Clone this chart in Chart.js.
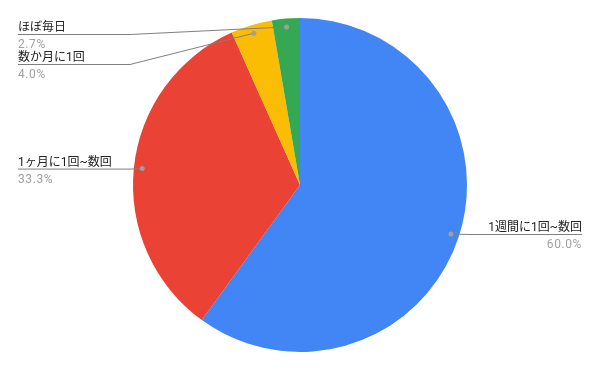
<!DOCTYPE html>
<html>
<head>
<meta charset="utf-8">
<script src="https://cdn.jsdelivr.net/npm/chart.js"></script>
<style>
  html, body { margin: 0; padding: 0; background: #fff; }
  #wrap { width: 600px; height: 371px; }
</style>
</head>
<body>
<div id="wrap"><canvas id="chart"></canvas></div>
<script>
const categories = ["1週間に1回~数回", "1ヶ月に1回~数回", "数か月に1回", "ほぼ毎日"];
const shares = [60.0, 33.3, 4.0, 2.7];
const percentLabels = ["60.0%", "33.3%", "4.0%", "2.7%"];
const sliceColors = ["#4285F4", "#EA4335", "#FBBC04", "#34A853"];

// outside labels with leader lines, like the spreadsheet export
const calloutPlugin = {
  id: 'callouts',
  afterDatasetsDraw(chart) {
    const ctx = chart.ctx;
    const meta = chart.getDatasetMeta(0);
    const W = chart.width;
    const margin = 18, runLen = 112, gap = 30, minY = 34;

    const items = meta.data.map((arc, i) => {
      const mid = (arc.startAngle + arc.endAngle) / 2;
      const r = arc.outerRadius * 0.95;
      const dx = arc.x + Math.cos(mid) * r;
      const dy = arc.y + Math.sin(mid) * r;
      return { i, dx, dy, left: dx < arc.x, ly: dy };
    });

    // push left-side labels apart from top
    const lefts = items.filter(d => d.left).sort((a, b) => a.dy - b.dy);
    let prev = minY - gap;
    lefts.forEach(d => { d.ly = Math.max(d.ly, prev + gap); prev = d.ly; });

    ctx.save();
    items.forEach(d => {
      const x0 = d.left ? margin : W - margin;
      const x1 = d.left ? margin + runLen : W - margin - runLen;

      ctx.strokeStyle = '#7f7f7f';
      ctx.lineWidth = 1;
      ctx.beginPath();
      ctx.moveTo(x0, d.ly + 0.5);
      ctx.lineTo(x1, d.ly + 0.5);
      ctx.lineTo(d.dx, d.dy);
      ctx.stroke();

      ctx.fillStyle = '#9e9e9e';
      ctx.beginPath();
      ctx.arc(d.dx, d.dy, 2.5, 0, Math.PI * 2);
      ctx.fill();

      ctx.textAlign = d.left ? 'left' : 'right';
      ctx.textBaseline = 'alphabetic';
      ctx.font = '12px Roboto, "Noto Sans CJK JP", sans-serif';
      ctx.letterSpacing = '0px';
      ctx.fillStyle = '#222222';
      ctx.fillText(categories[d.i], x0, d.ly - 3);
      ctx.letterSpacing = '0.6px';
      ctx.fillStyle = '#a0a0a0';
      ctx.fillText(percentLabels[d.i], x0, d.ly + 14);
    });
    ctx.restore();
  }
};

new Chart(document.getElementById('chart'), {
  type: 'pie',
  data: {
    labels: categories,
    datasets: [{
      data: shares,
      backgroundColor: sliceColors,
      borderWidth: 0
    }]
  },
  options: {
    responsive: true,
    maintainAspectRatio: false,
    animation: false,
    layout: { padding: { top: 18, bottom: 19 } },
    plugins: {
      legend: { display: false },
      tooltip: { enabled: false }
    }
  },
  plugins: [calloutPlugin]
});
</script>
</body>
</html>
